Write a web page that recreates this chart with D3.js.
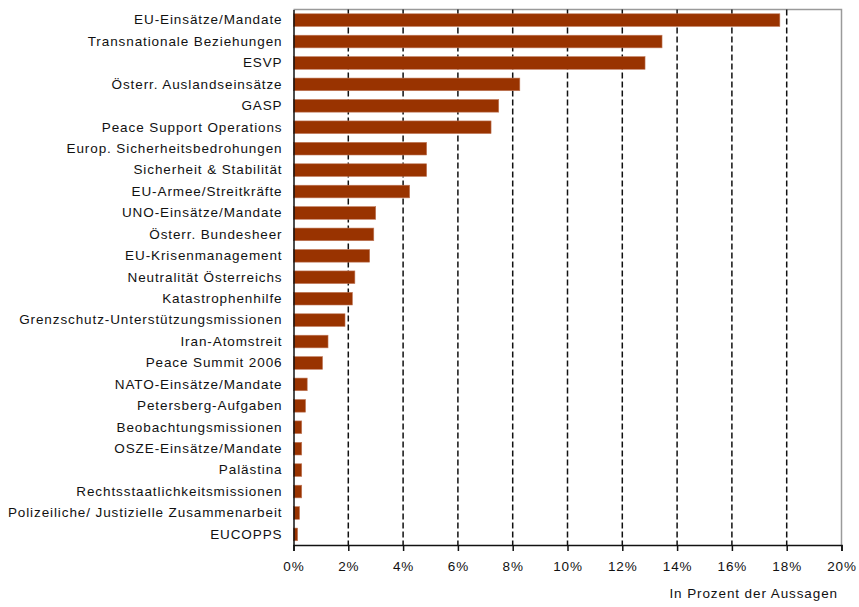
<!DOCTYPE html>
<html>
<head>
<meta charset="utf-8">
<script src="https://cdn.jsdelivr.net/npm/d3@7"></script>
<style>
  body { margin: 0; background: #fff; }
  svg { display: block; }
  text { font-family: "Liberation Sans", Arial, sans-serif; fill: #111; }
</style>
</head>
<body>
<svg id="chart" width="859" height="607"></svg>
<script>
// Themen (Anteil in Prozent der Aussagen), absteigend sortiert
const categories = [
  "EU-Einsätze/Mandate",
  "Transnationale Beziehungen",
  "ESVP",
  "Österr. Auslandseinsätze",
  "GASP",
  "Peace Support Operations",
  "Europ. Sicherheitsbedrohungen",
  "Sicherheit & Stabilität",
  "EU-Armee/Streitkräfte",
  "UNO-Einsätze/Mandate",
  "Österr. Bundesheer",
  "EU-Krisenmanagement",
  "Neutralität Österreichs",
  "Katastrophenhilfe",
  "Grenzschutz-Unterstützungsmissionen",
  "Iran-Atomstreit",
  "Peace Summit 2006",
  "NATO-Einsätze/Mandate",
  "Petersberg-Aufgaben",
  "Beobachtungsmissionen",
  "OSZE-Einsätze/Mandate",
  "Palästina",
  "Rechtsstaatlichkeitsmissionen",
  "Polizeiliche/ Justizielle Zusammenarbeit",
  "EUCOPPS"
];
const values = [
  17.75, 13.45, 12.83, 8.26, 7.49, 7.21, 4.86, 4.86, 4.24,
  3.00, 2.93, 2.78, 2.24, 2.15, 1.88, 1.26, 1.06,
  0.50, 0.44, 0.30, 0.30, 0.30, 0.30, 0.22, 0.15
];
const xTicks = [0, 2, 4, 6, 8, 10, 12, 14, 16, 18, 20];
const xTitle = "In Prozent der Aussagen";

const svg = d3.select("#chart");
const plot = { left: 293.5, right: 841.5, top: 9.5, bottom: 545 };
const font = { size: 13.5, spacing: "0.9" };

const x = d3.scaleLinear().domain([0, 20]).range([plot.left, plot.right]);
const y = d3.scaleBand().domain(categories).range([plot.top, plot.bottom]).paddingInner(0.41).paddingOuter(0.2);

// Rahmen oben/rechts
svg.append("path")
  .attr("d", `M${plot.left},${plot.top}H${plot.right}V${plot.bottom}`)
  .attr("fill", "none").attr("stroke", "#9a9a9a").attr("stroke-width", 1.5);

// gestrichelte Hilfslinien
svg.append("g").selectAll("line")
  .data(xTicks.filter(t => t > 0 && t < 20))
  .join("line")
  .attr("x1", d => x(d)).attr("x2", d => x(d))
  .attr("y1", plot.top).attr("y2", plot.bottom)
  .attr("stroke", "#111").attr("stroke-width", 1.5)
  .attr("stroke-dasharray", "6,3");

// Balken
svg.append("g").selectAll("rect")
  .data(values)
  .join("rect")
  .attr("x", x(0))
  .attr("y", (d, i) => y(categories[i]))
  .attr("width", d => x(d) - x(0))
  .attr("height", y.bandwidth())
  .attr("fill", "#993300")
  .attr("stroke", "#c0795a").attr("stroke-width", 0.6);

// x-Achse
const xAxis = d3.axisBottom(x)
  .tickValues(xTicks)
  .tickFormat(d => d + "%")
  .tickSize(6)
  .tickPadding(10);
const gx = svg.append("g").attr("transform", `translate(0,${plot.bottom})`).call(xAxis);
gx.select(".domain").attr("stroke", "#111").attr("stroke-width", 1.5);
gx.selectAll(".tick line").attr("stroke", "#111").attr("stroke-width", 1.5);
gx.selectAll(".tick text")
  .attr("font-size", font.size).attr("fill", "#222")
  .style("font-family", "Liberation Sans, Arial, sans-serif")
  .attr("letter-spacing", font.spacing);

// y-Achse
const yAxis = d3.axisLeft(y).tickSize(0).tickPadding(11);
const gy = svg.append("g").attr("transform", `translate(${plot.left},0)`).call(yAxis);
gy.select(".domain").attr("stroke", "#111").attr("stroke-width", 1.5);
gy.selectAll(".tick text")
  .attr("font-size", font.size).attr("fill", "#222")
  .style("font-family", "Liberation Sans, Arial, sans-serif")
  .attr("letter-spacing", font.spacing);

// Achsentitel
svg.append("text")
  .attr("x", 838).attr("y", 598)
  .attr("text-anchor", "end")
  .attr("font-size", font.size).attr("fill", "#222")
  .attr("letter-spacing", font.spacing)
  .text(xTitle);
</script>
</body>
</html>
